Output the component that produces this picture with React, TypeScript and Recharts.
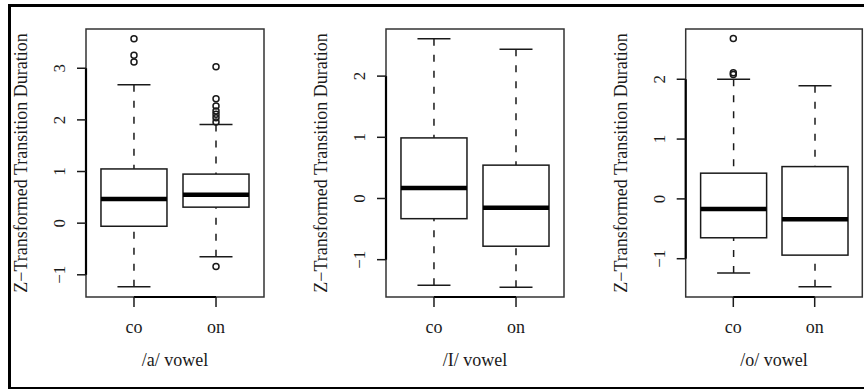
import React from 'react';
import { ComposedChart, XAxis, YAxis, Bar, Scatter, ReferenceArea, ReferenceLine } from 'recharts';

const categories = ['co', 'on'];

// /a/ vowel
const aMin = [-1.23, -0.65];
const aQ1 = [-0.06, 0.31];
const aMed = [0.47, 0.55];
const aQ3 = [1.05, 0.95];
const aMax = [2.68, 1.91];
const aOutCo = [3.57, 3.25, 3.12];
const aOutOn = [3.03, 2.41, 2.27, 2.17, 2.11, 2.04, 1.96, -0.84];
const aTicks = [-1, 0, 1, 2, 3];
const aLim = [-1.43, 3.76];

// /I/ vowel
const iMin = [-1.42, -1.45];
const iQ1 = [-0.33, -0.78];
const iMed = [0.17, -0.15];
const iQ3 = [0.99, 0.545];
const iMax = [2.61, 2.44];
const iOutCo: number[] = [];
const iOutOn: number[] = [];
const iTicks = [-1, 0, 1, 2];
const iLim = [-1.61, 2.77];

// /o/ vowel
const oMin = [-1.24, -1.47];
const oQ1 = [-0.65, -0.94];
const oMed = [-0.17, -0.34];
const oQ3 = [0.43, 0.54];
const oMax = [2.0, 1.89];
const oOutCo = [2.68, 2.11, 2.08];
const oOutOn: number[] = [];
const oTicks = [-1, 0, 1, 2];
const oLim = [-1.64, 2.84];

const xLim = [0.415, 2.585];

const FONT = '"Liberation Serif", "Times New Roman", serif';
const INK = '#1a1a1a';

const fmt = (v: number) => (v < 0 ? '\u2212' + Math.abs(v) : String(v));

const YTick = (props: any) => {
  const { x, y, payload } = props;
  const bx = x - 12;
  return (
    <text x={bx} y={y} transform={`rotate(-90, ${bx}, ${y})`} textAnchor="middle" fontFamily={FONT} fontSize={17} fill={INK}>
      {fmt(payload.value)}
    </text>
  );
};

const XTick = (props: any) => {
  const { x, y, payload } = props;
  return (
    <text x={x} y={y + 26} textAnchor="middle" fontFamily={FONT} fontSize={18} fill={INK}>
      {categories[Math.round(payload.value) - 1]}
    </text>
  );
};

const BoxShape = (props: any) => {
  const { x, y, width, height } = props;
  return <rect x={x} y={y} width={width} height={height} fill="#fff" stroke={INK} strokeWidth={1.5} />;
};

const MedianShape = (props: any) => {
  const { x, y, width } = props;
  return <line x1={x} x2={x + width} y1={y} y2={y} stroke="#000" strokeWidth={4.5} />;
};

const WhiskerLow = (props: any) => {
  const { x, y, width, height } = props;
  const cx = x + width / 2;
  const yb = y + height;
  return (
    <g>
      <line x1={cx} x2={cx} y1={yb} y2={y} stroke={INK} strokeWidth={1.5} strokeDasharray="7 9" />
      <line x1={x + width / 4} x2={x + (3 * width) / 4} y1={yb} y2={yb} stroke={INK} strokeWidth={1.5} />
    </g>
  );
};

const WhiskerHigh = (props: any) => {
  const { x, y, width, height } = props;
  const cx = x + width / 2;
  const yb = y + height;
  return (
    <g>
      <line x1={cx} x2={cx} y1={y} y2={yb} stroke={INK} strokeWidth={1.5} strokeDasharray="7 9" />
      <line x1={x + width / 4} x2={x + (3 * width) / 4} y1={y} y2={y} stroke={INK} strokeWidth={1.5} />
    </g>
  );
};

const Outlier = (props: any) => {
  const { cx, cy } = props;
  return <circle cx={cx} cy={cy} r={3} fill="none" stroke={INK} strokeWidth={1.5} />;
};

type PanelProps = {
  title: string;
  mins: number[];
  q1s: number[];
  meds: number[];
  q3s: number[];
  maxs: number[];
  outCo: number[];
  outOn: number[];
  ticks: number[];
  lim: number[];
  left: number;
  mLeft: number;
  mRight: number;
};

const Panel = (p: PanelProps) => {
  const data = categories.map((c, i) => ({
    pos: i + 1,
    name: c,
    low: [p.mins[i], p.q1s[i]],
    box: [p.q1s[i], p.q3s[i]],
    med: [p.meds[i], p.meds[i]],
    high: [p.q3s[i], p.maxs[i]],
  }));
  const outliers = [
    ...p.outCo.map((v) => ({ pos: 1, v })),
    ...p.outOn.map((v) => ({ pos: 2, v })),
  ];
  const yTitle = (lp: any) => {
    const vb = lp.viewBox;
    const bx = vb.x + vb.width - 59;
    const cy = vb.y + vb.height / 2;
    return (
      <text x={bx} y={cy} transform={`rotate(-90, ${bx}, ${cy})`} textAnchor="middle" fontFamily={FONT} fontSize={18} fill={INK}>
        Z{'\u2212'}Transformed Transition Duration
      </text>
    );
  };
  const xTitle = (lp: any) => {
    const vb = lp.viewBox;
    return (
      <text x={vb.x + vb.width / 2} y={vb.y + 69} textAnchor="middle" fontFamily={FONT} fontSize={18} fill={INK}>
        {p.title}
      </text>
    );
  };
  return (
    <div style={{ position: 'absolute', left: p.left, top: 0 }}>
      <ComposedChart
        width={288}
        height={390}
        data={data}
        barGap={-66}
        margin={{ top: 29, right: p.mRight, bottom: 33, left: p.mLeft }}
      >
        <XAxis
          dataKey="pos"
          type="number"
          domain={xLim}
          allowDataOverflow
          ticks={[1, 2]}
          tick={(tp: any) => <XTick {...tp} />}
          tickSize={10}
          tickMargin={0}
          tickLine={{ stroke: INK, strokeWidth: 1.5 }}
          axisLine={false}
          height={60}
          label={{ content: xTitle }}
        />
        <YAxis
          type="number"
          domain={p.lim}
          allowDataOverflow
          ticks={p.ticks}
          tick={(tp: any) => <YTick {...tp} />}
          tickSize={9}
          tickMargin={0}
          tickLine={{ stroke: INK, strokeWidth: 1.5 }}
          axisLine={false}
          width={60}
          label={{ content: yTitle }}
        />
        <Bar dataKey="low" barSize={66} shape={(bp: any) => <WhiskerLow {...bp} />} isAnimationActive={false} />
        <Bar dataKey="high" barSize={66} shape={(bp: any) => <WhiskerHigh {...bp} />} isAnimationActive={false} />
        <Bar dataKey="box" barSize={66} shape={(bp: any) => <BoxShape {...bp} />} isAnimationActive={false} />
        <Bar dataKey="med" barSize={66} shape={(bp: any) => <MedianShape {...bp} />} isAnimationActive={false} />
        <Scatter data={outliers} dataKey="v" shape={(sp: any) => <Outlier {...sp} />} isAnimationActive={false} />
        <ReferenceArea x1={xLim[0]} x2={xLim[1]} y1={p.lim[0]} y2={p.lim[1]} fill="none" stroke="#333" strokeWidth={1.5} ifOverflow="visible" />
        <ReferenceLine segment={[{ x: 1, y: p.lim[0] }, { x: 2, y: p.lim[0] }]} stroke="#000" strokeWidth={2.2} ifOverflow="visible" />
        <ReferenceLine
          segment={[{ x: xLim[0], y: p.ticks[0] }, { x: xLim[0], y: p.ticks[p.ticks.length - 1] }]}
          stroke="#000"
          strokeWidth={2.2}
          ifOverflow="visible"
        />
      </ComposedChart>
    </div>
  );
}

export default function App() {
  return (
    <div style={{ position: 'absolute', left: 0, top: 0, width: 864, height: 390, overflow: 'hidden', background: '#fff' }}>
      <div
        style={{
          position: 'absolute',
          left: 8,
          top: 4,
          width: 870,
          height: 385,
          boxSizing: 'border-box',
          borderTop: '3px solid #000',
          borderLeft: '3px solid #000',
          borderBottom: '2px solid #000',
        }}
      />
      <Panel title="/a/ vowel" mins={aMin} q1s={aQ1} meds={aMed} q3s={aQ3} maxs={aMax} outCo={aOutCo} outOn={aOutOn} ticks={aTicks} lim={aLim} left={0} mLeft={26} mRight={24} />
      <Panel title="/I/ vowel" mins={iMin} q1s={iQ1} meds={iMed} q3s={iQ3} maxs={iMax} outCo={iOutCo} outOn={iOutOn} ticks={iTicks} lim={iLim} left={288} mLeft={38} mRight={12} />
      <Panel title="/o/ vowel" mins={oMin} q1s={oQ1} meds={oMed} q3s={oQ3} maxs={oMax} outCo={oOutCo} outOn={oOutOn} ticks={oTicks} lim={oLim} left={576} mLeft={49.7} mRight={1.7} />
    </div>
  );
}
